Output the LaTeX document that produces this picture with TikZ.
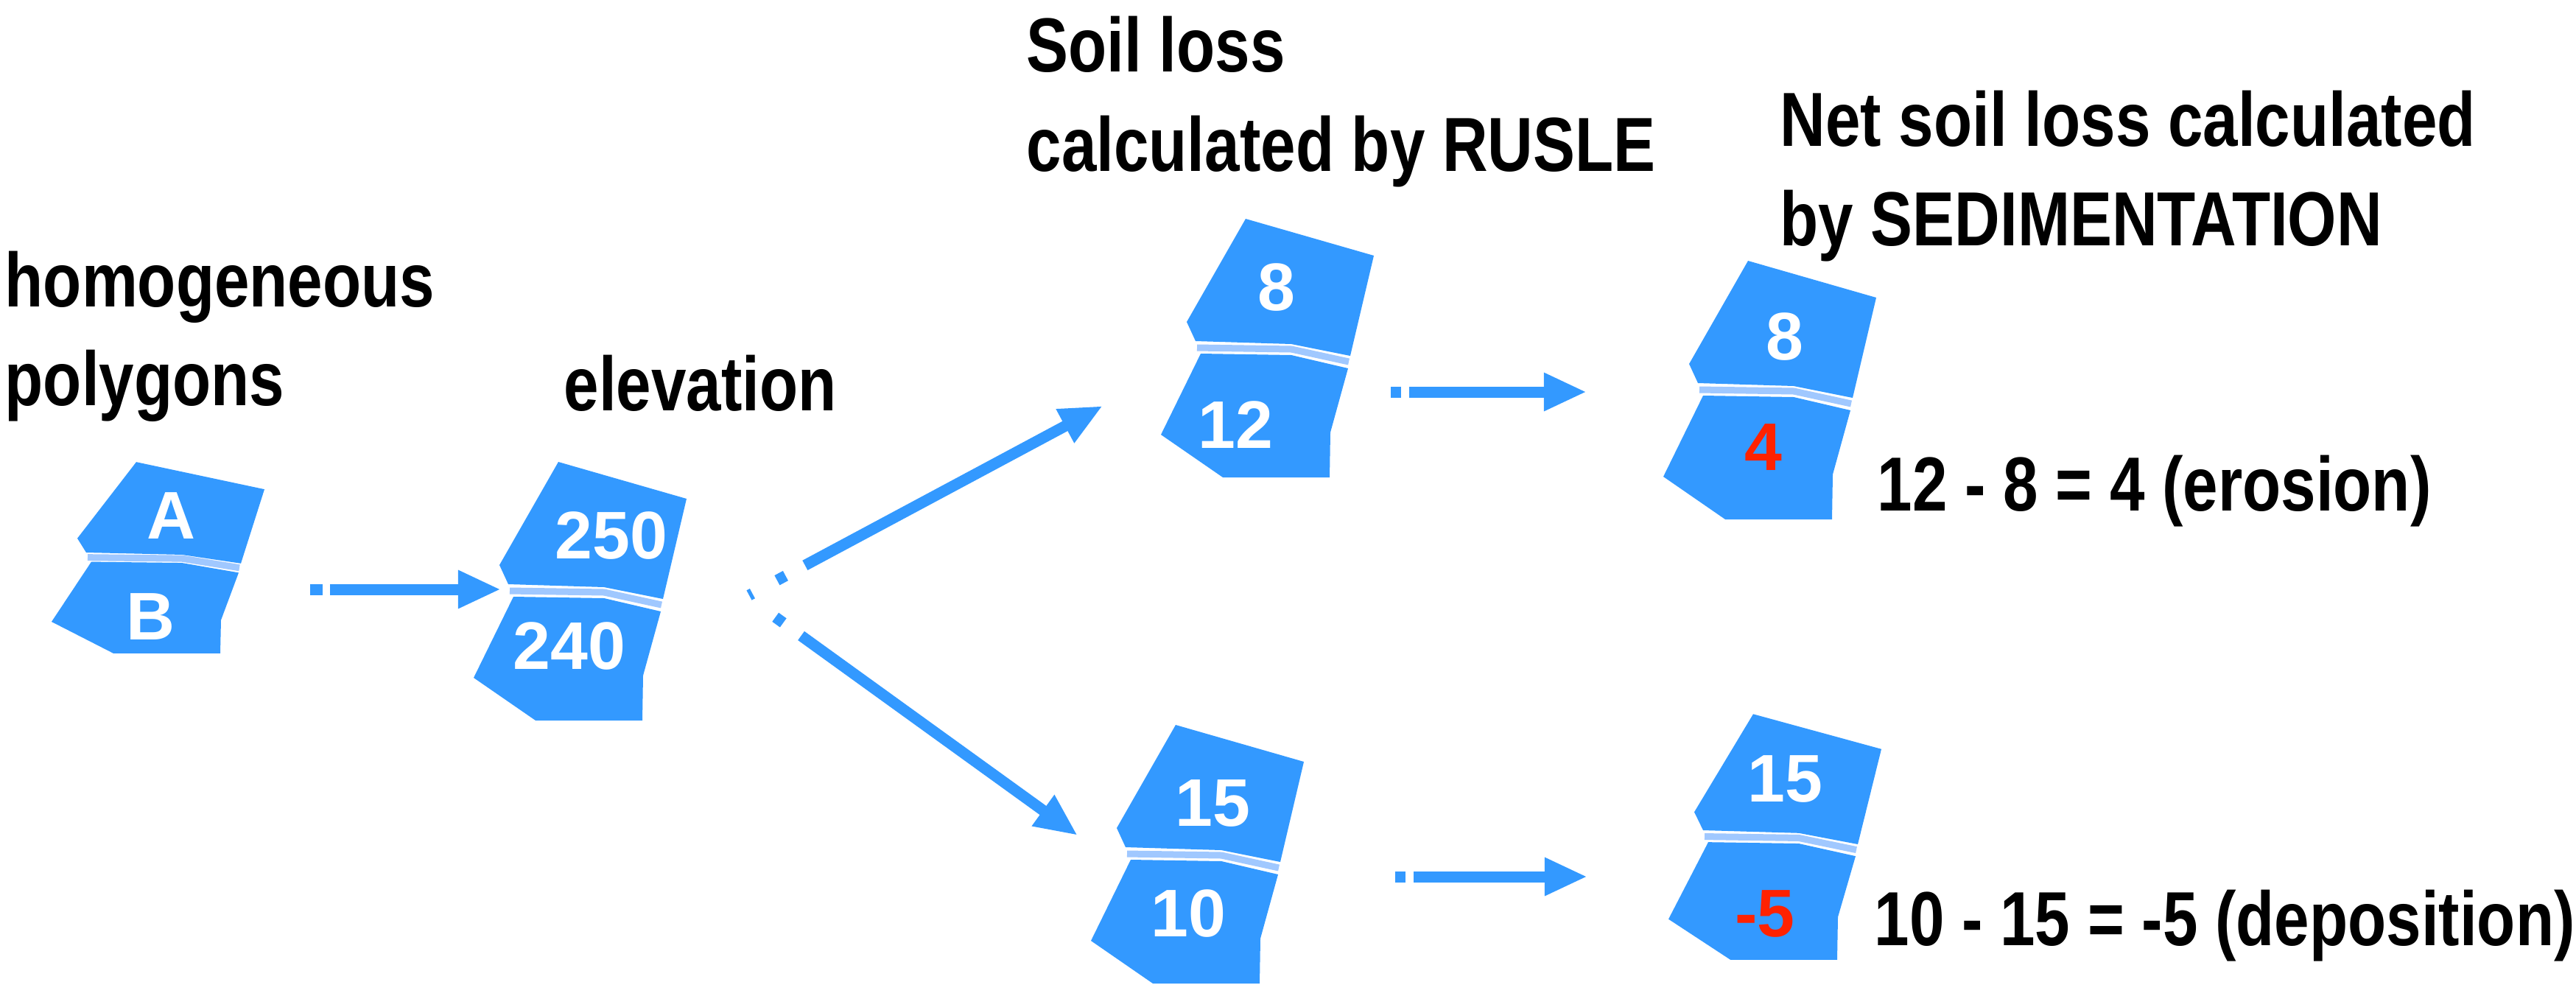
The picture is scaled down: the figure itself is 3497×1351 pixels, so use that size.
\documentclass[tikz,border=0pt]{standalone}
\usepackage{fontspec}
\setmainfont{Liberation Sans}
\newfontfamily\headfont{Liberation Sans}[FakeStretch=0.82]
\usetikzlibrary{arrows.meta}
\definecolor{parcelblue}{RGB}{51,153,255}
\definecolor{seamblue}{RGB}{160,200,255}
\definecolor{lossred}{RGB}{255,34,0}
\tikzset{
  parcel/.pic={
    \fill[parcelblue] (-12,-26)--(68,-166)--(242,-116)--(210,20)--(130,4)--(0,0)--cycle;
    \fill[parcelblue] (7,17)--(130,19)--(207,37)--(183,124)--(182,185)--(37,185)--(-47,127)--cycle;
    \draw[seamblue,line width=0.09cm] (2,9)--(130,11)--(208,28);
  }
}
\begin{document}
\begin{tikzpicture}[x=0.01cm,y=-0.01cm,
  heading/.style={anchor=base west,inner sep=0pt,font=\headfont\bfseries\fontsize{29.6}{36}\selectfont},
  value/.style={inner sep=0pt,text=white,font=\bfseries\fontsize{26}{31}\selectfont},
  flow/.style={parcelblue,line width=0.15cm,-{Triangle[length=0.58cm,width=0.48cm]}}]
\useasboundingbox (0,0) rectangle (3497,1351);
\fill[white] (0,0) rectangle (3497,1351);
% titles
\node[heading] (hom1) at (6,416) {homogeneous};
\node[heading] (hom2) at (6,550) {polygons};
\node[heading] (elev) at (765,557) {elevation};
\node[heading] (soil1) at (1393,97) {Soil loss};
\node[heading] (soil2) at (1393,232) {calculated by RUSLE};
\node[heading] (net1) at (2416,198) {Net soil loss calculated};
\node[heading] (net2) at (2416,333) {by SEDIMENTATION};
\node[heading] (eros) at (2548,693) {12 - 8 = 4 (erosion)};
\node[heading] (depo) at (2544,1283) {10 - 15 = -5 (deposition)};
% polygon pairs
\pic[yscale=0.74] at (117,750) {parcel};
\pic at (690,793) {parcel};
\pic at (1623,463) {parcel};
\pic at (1528,1150) {parcel};
\pic at (2305,520) {parcel};
\pic[yscale=0.95] at (2312,1127) {parcel};
\node[value] (pa) at (233,700) {A};
\node[value] (pb) at (205,837) {B};
\node[value] (e1) at (830,727) {250};
\node[value] (e2) at (773,877) {240};
\node[value] (r1) at (1733,390) {8};
\node[value] (r2) at (1677,577) {12};
\node[value] (r3) at (1646,1090) {15};
\node[value] (r4) at (1613,1240) {10};
\node[value] (s1) at (2423,457) {8};
\node[value,text=lossred] (s2) at (2394,607) {4};
\node[value] (s3) at (2423,1057) {15};
\node[value,text=lossred] (s4) at (2396,1240) {-5};
% arrows
\coordinate (f1s) at (421,800);
\coordinate (f1e) at (680,800);
\coordinate (brs) at (1017,808);
\coordinate (brt) at (1017,812);
\coordinate (bru) at (1497,551);
\coordinate (brd) at (1463,1134);
\coordinate (f2s) at (1888,532);
\coordinate (f2e) at (2154,532);
\coordinate (f3s) at (1894,1190);
\coordinate (f3e) at (2155,1190);
\draw[flow,dash pattern=on 0.17cm off 0.1cm on 20cm] (f1s)--(f1e);
\draw[flow,dash pattern=on 0.05cm off 0.38cm on 0.13cm off 0.3cm on 20cm] (brs)--(bru);
\draw[flow,dash pattern=on 0cm off 0.44cm on 0.13cm off 0.3cm on 20cm] (brt)--(brd);
\draw[flow,dash pattern=on 0.14cm off 0.11cm on 20cm] (f2s)--(f2e);
\draw[flow,dash pattern=on 0.14cm off 0.11cm on 20cm] (f3s)--(f3e);
\end{tikzpicture}
\end{document}
